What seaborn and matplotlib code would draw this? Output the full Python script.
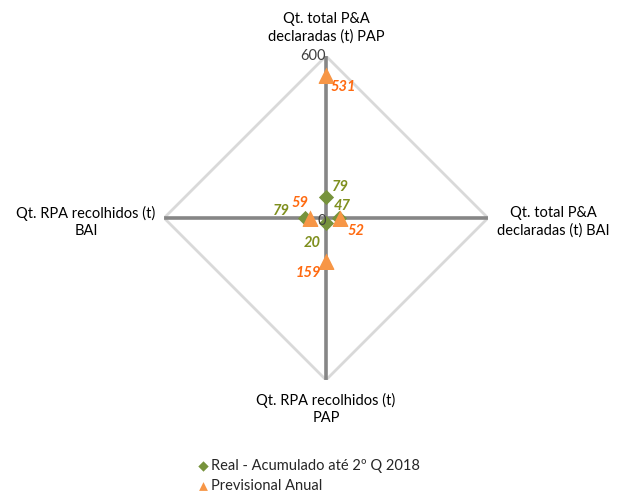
import numpy as np
import pandas as pd
import matplotlib
matplotlib.use("Agg")
import matplotlib.pyplot as plt
import seaborn as sns

categories = ["Qt. total P&A\ndeclaradas (t) PAP",
              "Qt. total P&A\ndeclaradas (t) BAI",
              "Qt. RPA recolhidos (t)\nPAP",
              "Qt. RPA recolhidos (t)\nBAI"]
series_names = ["Real - Acumulado até 2º Q 2018", "Previsional Anual"]
real_values = [79, 47, 20, 79]
prev_values = [531, 52, 159, 59]
r_max = 600
r_ticks = [0, 600]

sns.set_theme(style="white")
plt.rcParams['font.family'] = ['Lato', 'DejaVu Sans']

n = len(categories)
theta = [2 * np.pi * i / n for i in range(n)]

df = pd.DataFrame({
    "theta": theta * 2,
    "value": real_values + prev_values,
    "series": [series_names[0]] * n + [series_names[1]] * n,
})

fig = plt.figure(figsize=(6.26, 4.96), dpi=100)
ax = fig.add_axes([0.262, 0.234, 0.5176, 0.653], projection="polar")
ax.set_theta_zero_location("N")
ax.set_theta_direction(-1)
ax.set_ylim(0, r_max)
ax.grid(False)
ax.spines["polar"].set_visible(False)
ax.set_xticks([])
ax.set_yticks([])
ax.patch.set_alpha(0)

# outer gridline polygon
ax.plot(theta + [theta[0]], [r_max] * (n + 1), color="#d9d9d9", lw=2, zorder=1)
# spokes
for t in theta:
    ax.plot([t, t], [0, r_max], color="#868686", lw=2.6, zorder=2, solid_capstyle="butt")

colors = {series_names[0]: "#77933C", series_names[1]: "#F79646"}
markers = {series_names[0]: "D", series_names[1]: "^"}
sizes = {series_names[0]: 60, series_names[1]: 135}
leg_sizes = {series_names[0]: 28, series_names[1]: 40}

for s in series_names:
    sub = df[df.series == s]
    sns.scatterplot(data=sub, x="theta", y="value", ax=ax, color=colors[s],
                    marker=markers[s], s=sizes[s], linewidth=0, zorder=3,
                    label=s)
ax.set_xlabel("")
ax.set_ylabel("")

# data labels
label_col = {series_names[0]: "#7F8F1E", series_names[1]: "#FF6A10"}
offsets = {
    series_names[0]: [(14, 10), (3, 12), (-14, -20), (-23, 7)],
    series_names[1]: [(17, -12), (16, -13), (-18, -12), (-10, 15)],
}
for s, vals in [(series_names[0], real_values), (series_names[1], prev_values)]:
    for t, v, off in zip(theta, vals, offsets[s]):
        ax.annotate(str(v), (t, v), xytext=off, textcoords="offset pixels",
                    ha="center", va="center", fontsize=10.5, fontweight="bold",
                    fontstyle="italic", color=label_col[s], zorder=5)

# r tick labels
ax.text(0, r_ticks[1], str(r_ticks[1]), ha="right", va="center", fontsize=10.5,
        color="#404040", transform=ax.transData)
ax.annotate(str(r_ticks[0]), (0, 0), xytext=(-4, -3), textcoords="offset pixels",
            ha="center", va="center", fontsize=10.5, color="#404040")

# category labels (pixel positions)
W, H = 626, 496
cat_pos = [(326, 28), (553, 222), (326, 409), (86, 222)]
for c, (px, py) in zip(categories, cat_pos):
    fig.text(px / W, 1 - py / H, c, ha="center", va="center", fontsize=10.5,
             color="#000000", linespacing=1.35)

sns.move_legend(ax, loc="upper left", bbox_to_anchor=(190 / W, 1 - 453 / H),
                bbox_transform=fig.transFigure, frameon=False, fontsize=10.5,
                handletextpad=0.0, labelspacing=0.4, handlelength=1.05,
                borderaxespad=0, title=None)
leg = ax.get_legend()
for h, s in zip(leg.legend_handles, series_names):
    h.set_sizes([leg_sizes[s]])

fig.savefig("out.png", dpi=100)
